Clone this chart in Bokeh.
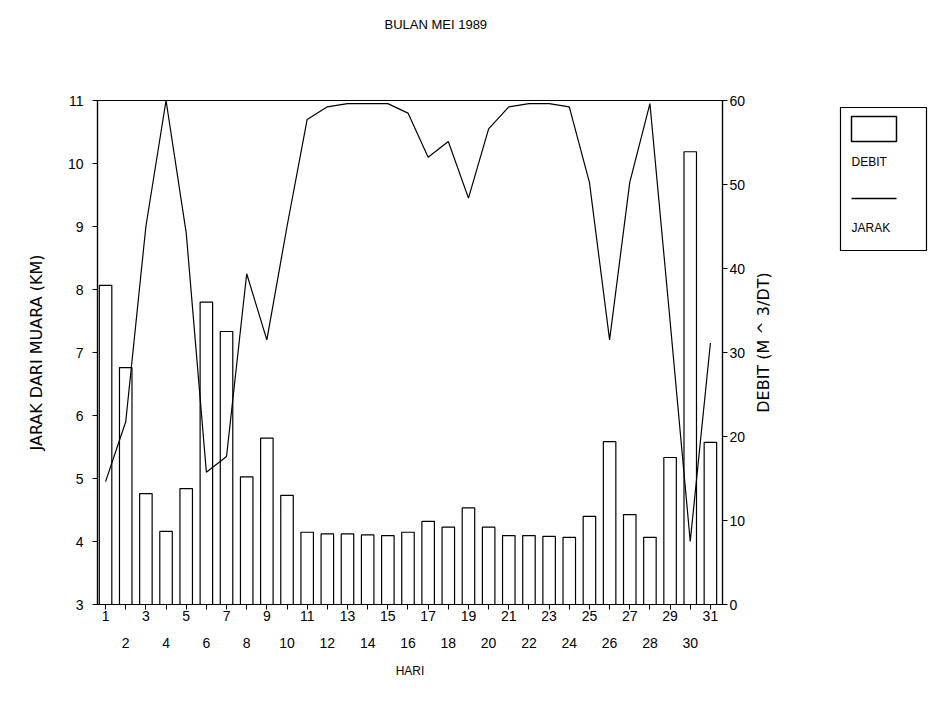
import math
from bokeh.plotting import figure
from bokeh.models import Range1d, LinearAxis, FixedTicker, Title
from bokeh.layouts import row
from bokeh.embed import file_html
from bokeh.resources import INLINE
from bokeh.core.properties import value

# ---- data ----
days = list(range(1, 32))
debit = [38.0, 28.2, 13.2, 8.7, 13.8, 36.0, 32.5, 15.2, 19.8, 13.0,
         8.6, 8.4, 8.4, 8.3, 8.2, 8.6, 9.9, 9.2, 11.5, 9.2,
         8.2, 8.2, 8.1, 8.0, 10.5, 19.4, 10.7, 8.0, 17.5, 53.9, 19.3]
jarak = [4.95, 5.9, 9.0, 11.0, 8.9, 5.1, 5.35, 8.25, 7.2, 9.0,
         10.7, 10.9, 10.95, 10.95, 10.95, 10.8, 10.1, 10.35, 9.45, 10.55,
         10.9, 10.95, 10.95, 10.9, 9.7, 7.2, 9.7, 10.95, 7.5, 4.0, 7.15]
jarak_ticks = [3, 4, 5, 6, 7, 8, 9, 10, 11]
debit_ticks = [0, 10, 20, 30, 40, 50, 60]
title_text = "BULAN MEI 1989"
xlabel = "HARI"
ylabel_left = "JARAK DARI MUARA (KM)"
ylabel_right = "DEBIT (M ^ 3/DT)"
legend_labels = ["DEBIT", "JARAK"]

FONT = "Liberation Sans"
LFONT = "DejaVu Sans"

p = figure(frame_width=625, frame_height=504,
           min_border_left=97, min_border_right=28,
           min_border_top=100, min_border_bottom=100,
           x_range=Range1d(0.6, 31.6), y_range=Range1d(3, 11),
           toolbar_location=None, output_backend="svg")
p.extra_y_ranges = {"debit": Range1d(0, 60)}
p.grid.visible = False
p.outline_line_color = "black"
p.outline_line_width = 1.2
p.background_fill_color = "white"
p.border_fill_color = "white"

# title (outermost), plus an empty spacer title between it and the frame
p.title.text = title_text
p.title.align = "left"
p.title.offset = 287
p.title.vertical_align = "bottom"
p.title.standoff = 0
p.title.text_font = FONT
p.title.text_font_size = "13px"
p.title.text_font_style = "normal"
p.title.text_color = "black"
spacer = Title(text=" ", standoff=52, text_font=FONT, text_font_size="13px")
p.add_layout(spacer, "above")

# bars then line
p.vbar(x=days, top=debit, bottom=0, width=0.62, y_range_name="debit",
       fill_color="white", line_color="black", line_width=1.2)
p.line(x=days, y=jarak, line_color="black", line_width=1.2)

def style_axis(ax):
    ax.major_label_text_font = FONT
    ax.major_label_text_font_size = "14px"
    ax.major_label_text_color = "black"
    ax.axis_label_text_font = LFONT
    ax.axis_label_text_font_size = "16px"
    ax.axis_label_text_font_style = "normal"
    ax.axis_label_text_color = "black"
    ax.axis_line_color = "black"
    ax.axis_line_width = 1.2
    ax.major_tick_line_color = "black"
    ax.major_tick_in = 0
    ax.major_tick_out = 5
    ax.minor_tick_line_color = None

# left axis
yl = p.yaxis[0]
yl.ticker = FixedTicker(ticks=jarak_ticks)
yl.axis_label = ylabel_left
style_axis(yl)
yl.major_label_standoff = 9
yl.axis_label_standoff = 19

# right axis (its label is drawn in the side panel below)
yr = LinearAxis(y_range_name="debit", ticker=FixedTicker(ticks=debit_ticks))
style_axis(yr)
yr.major_label_standoff = 2
p.add_layout(yr, "right")

# bottom axes: odd days on first row, even days on second row
xb = p.xaxis[0]
xb.ticker = FixedTicker(ticks=days)
xb.major_label_overrides = {d: (str(d) if d % 2 == 1 else "") for d in days}
style_axis(xb)
xb.major_label_standoff = 1

xb2 = LinearAxis(ticker=FixedTicker(ticks=days), axis_label=xlabel)
xb2.major_label_overrides = {d: (str(d) if d % 2 == 0 else "") for d in days}
style_axis(xb2)
xb2.axis_label_text_font = FONT
xb2.axis_label_text_font_size = "12px"
xb2.axis_line_color = None
xb2.major_tick_line_color = None
xb2.major_tick_out = 0
xb2.major_label_standoff = 14
xb2.axis_label_standoff = 13
p.add_layout(xb2, "below")

# side panel: right axis label + legend (frame aligned with main frame: y 100..604)
lg = figure(width=178, height=704, x_range=Range1d(750, 928), y_range=Range1d(604, 100),
            toolbar_location=None, output_backend="svg", min_border=0)
lg.axis.visible = False
lg.grid.visible = False
lg.outline_line_color = None
lg.text(x=[763], y=[342], text=[ylabel_right], angle=math.pi / 2,
        text_font=value(LFONT), text_font_size="16px",
        text_baseline="middle", text_align="center")
lg.quad(left=[840], right=[926], top=[107], bottom=[250],
        fill_color="white", line_color="black", line_width=1.2)
lg.quad(left=[851], right=[896], top=[116], bottom=[141],
        fill_color="white", line_color="black", line_width=1.5)
lg.text(x=[851], y=[161], text=[legend_labels[0]], text_font=value(FONT),
        text_font_size="12px", text_baseline="middle", text_align="left")
lg.line(x=[851, 896], y=[198, 198], line_color="black", line_width=1.5)
lg.text(x=[851], y=[227], text=[legend_labels[1]], text_font=value(FONT),
        text_font_size="12px", text_baseline="middle", text_align="left")

layout = row(p, lg)
open("out.html", "w").write(file_html(layout, INLINE))
